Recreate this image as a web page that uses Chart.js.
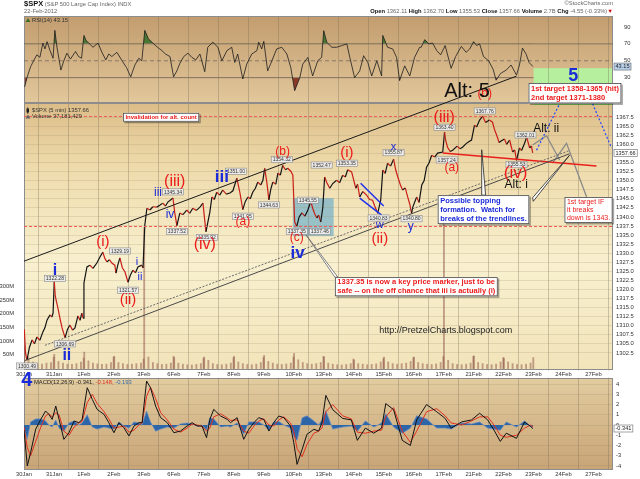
<!DOCTYPE html>
<html><head><meta charset="utf-8"><title>$SPX 5 min</title>
<script src="https://cdn.jsdelivr.net/npm/chart.js@4.4.1/dist/chart.umd.min.js"></script>
<style>
html,body{margin:0;padding:0;background:#fff;}
#wrap{position:relative;width:640px;height:479px;overflow:hidden;font-family:"Liberation Sans",Arial,sans-serif;}
#c{position:absolute;left:0;top:0;width:640px;height:479px;}
.hd{position:absolute;white-space:nowrap;font-size:5.8px;line-height:7px;color:#666;}
.hd b{color:#111;}
</style></head>
<body><div id="wrap">
<canvas id="c" width="640" height="479"></canvas>
<div class="hd" style="left:24px;top:0px;"><b style="font-size:7.5px;">$SPX</b> (S&amp;P 500 Large Cap Index) INDX</div>
<div class="hd" style="left:24px;top:8px;">22-Feb-2012</div>
<div class="hd" style="right:27px;top:0px;">©StockCharts.com</div>
<div class="hd" style="right:27px;top:8px;"><b>Open</b> 1362.11 <b>High</b> 1362.70 <b>Low</b> 1355.53 <b>Close</b> 1357.66 <b>Volume</b> 2.7B <b>Chg</b> -4.55 (-0.33%)<span style="color:#d00">▼</span></div>
</div>
<script>
// ---------------- DATA ----------------
const dayLabels = ['30Jan','31Jan','1Feb','2Feb','3Feb','6Feb','7Feb','8Feb','9Feb','10Feb','13Feb','14Feb','15Feb','16Feb','17Feb','21Feb','22Feb','23Feb','24Feb','27Feb'];
const priceTicks = [1302.5,1305,1307.5,1310,1312.5,1315,1317.5,1320,1322.5,1325,1327.5,1330,1332.5,1335,1337.5,1340,1342.5,1345,1347.5,1350,1352.5,1355,1357.5,1360,1362.5,1365,1367.5];
const rsiTicks = [30,50,70,90];
const macdTicks = [-4,-3,-2,-1,0,1,2,3,4];
const volTicks = [50,100,150,200,250,300];

const priceDay = [0.01,0.05,0.10,0.18,0.27,0.35,0.43,0.53,0.63,0.70,0.77,0.87,0.93,0.97,
1.01,1.04,1.07,1.13,1.20,1.27,1.37,1.45,1.53,1.62,1.70,1.80,1.87,1.93,1.97,
2.00,2.10,2.20,2.30,2.43,2.53,2.63,2.70,2.77,2.85,2.93,
3.03,3.07,3.13,3.20,3.28,3.37,3.47,3.55,3.63,3.72,3.80,3.93,3.97,
4.03,4.10,4.20,4.30,4.43,4.53,4.63,4.72,4.80,4.97,
5.03,5.10,5.20,5.30,5.43,5.53,5.63,5.75,5.87,5.97,
6.07,6.20,6.27,6.35,6.43,6.53,6.63,6.75,6.87,6.97,
7.10,7.20,7.30,7.38,7.47,7.55,7.63,7.72,7.80,7.90,7.97,
8.03,8.10,8.17,8.23,8.30,8.40,8.47,8.55,8.63,8.72,8.80,8.90,8.97,
9.03,9.10,9.18,9.27,9.37,9.47,9.57,9.63,9.70,9.77,9.83,9.90,9.97,
10.03,10.10,10.20,10.30,10.43,10.53,10.63,10.72,10.80,10.93,
11.07,11.13,11.20,11.30,11.43,11.53,11.63,11.70,11.80,11.90,11.97,
12.05,12.13,12.23,12.33,12.40,12.47,12.55,12.63,12.72,12.80,12.87,12.93,12.97,
13.10,13.18,13.27,13.35,13.43,13.52,13.60,13.70,13.80,13.97,
14.03,14.07,14.13,14.22,14.30,14.45,14.55,14.63,14.75,14.85,14.93,
15.03,15.10,15.20,15.30,15.40,15.53,15.63,15.70,15.77,15.85,15.93,
16.03,16.10,16.20,16.30,16.37,16.43,16.53,16.60,16.70,16.77,16.87,16.93,16.97];
const priceVal = [1309.0,1302.5,1300.5,1304.0,1306.1,1305.0,1306.9,1306.0,1308.3,1309.5,1311.6,1313.0,1312.4,1313.5,
1322.3,1318.5,1317.1,1314.9,1312.0,1309.4,1306.7,1309.0,1310.2,1308.8,1309.4,1312.7,1311.5,1313.5,1312.1,
1321.8,1326.2,1326.7,1325.8,1327.3,1328.9,1330.3,1328.5,1327.6,1328.2,1327.3,
1326.7,1324.5,1326.8,1328.7,1326.0,1324.8,1322.0,1324.0,1325.3,1324.6,1326.2,1326.7,1325.9,
1337.7,1342.4,1341.9,1342.8,1342.7,1343.2,1343.8,1343.0,1344.1,1345.2,
1341.1,1337.6,1341.1,1340.6,1341.9,1341.0,1342.4,1341.8,1342.7,1343.8,
1335.9,1341.3,1345.5,1344.8,1346.8,1346.0,1347.4,1346.3,1346.6,1347.2,
1350.7,1346.8,1342.0,1344.2,1345.5,1345.0,1346.8,1347.9,1349.6,1348.8,1350.1,
1353.4,1349.6,1344.7,1347.5,1349.6,1349.0,1352.1,1351.5,1354.2,1353.0,1353.4,1352.6,1351.5,
1338.6,1337.4,1340.0,1341.1,1340.2,1341.9,1344.3,1342.4,1340.8,1339.7,1340.5,1338.6,1342.7,
1351.0,1349.5,1347.9,1349.2,1350.1,1349.4,1351.5,1351.0,1353.0,1352.4,
1347.9,1349.0,1345.5,1347.0,1346.0,1344.8,1344.6,1343.0,1341.0,1344.6,1352.9,
1352.0,1354.8,1354.0,1355.9,1353.0,1351.0,1349.0,1347.4,1348.0,1345.5,1343.5,1341.0,1342.7,
1345.5,1344.0,1348.8,1350.0,1353.7,1355.0,1357.0,1356.5,1357.6,1357.9,
1363.4,1361.0,1359.2,1358.0,1358.4,1359.5,1358.8,1359.2,1360.2,1360.8,1361.2,
1365.3,1364.8,1366.7,1367.8,1366.0,1366.7,1366.1,1364.0,1362.5,1360.5,1361.0,
1361.5,1360.0,1361.2,1357.9,1358.5,1355.6,1359.0,1358.3,1360.3,1362.0,1359.0,1359.6,1357.66];

const volDay = [0.01,0.15,0.3,0.45,0.6,0.75,0.9,0.99, 1.01,1.15,1.3,1.45,1.6,1.75,1.9,1.99,
2.01,2.15,2.3,2.45,2.6,2.75,2.9,2.99, 3.01,3.15,3.3,3.45,3.6,3.75,3.9,3.99,
4.01,4.15,4.3,4.45,4.6,4.75,4.9,4.99, 5.01,5.15,5.3,5.45,5.6,5.75,5.9,5.99,
6.01,6.15,6.3,6.45,6.6,6.75,6.9,6.99, 7.01,7.15,7.3,7.45,7.6,7.75,7.9,7.99,
8.01,8.15,8.3,8.45,8.6,8.75,8.9,8.99, 9.01,9.15,9.3,9.45,9.6,9.75,9.9,9.99,
10.01,10.15,10.3,10.45,10.6,10.75,10.9,10.99, 11.01,11.15,11.3,11.45,11.6,11.75,11.9,11.99,
12.01,12.15,12.3,12.45,12.6,12.75,12.9,12.99, 13.01,13.15,13.3,13.45,13.6,13.75,13.9,13.99,
14.01,14.15,14.3,14.45,14.6,14.75,14.9,14.99, 15.01,15.15,15.3,15.45,15.6,15.75,15.9,15.99,
16.01,16.15,16.3,16.45,16.6,16.75,16.9,16.99];
const volM = [85,40,24,18,16,20,22,42, 52,26,20,16,15,18,24,38,
60,28,20,17,15,16,22,42, 45,22,18,15,16,18,20,35,
515,42,22,18,15,16,20,45, 40,20,16,14,13,15,18,38,
42,30,18,15,14,16,20,40, 45,24,18,15,14,16,22,40,
48,26,20,16,15,17,20,42, 55,32,22,18,16,18,22,45,
42,20,16,14,13,15,18,35, 31,18,16,14,15,17,24,36,
42,24,18,16,18,20,26,40, 42,22,18,16,15,17,22,44,
560,30,18,15,14,16,20,45, 46,22,18,15,14,16,24,40,
38,24,18,15,14,16,20,40];

const rsiDay = [0.02,0.1,0.22,0.32,0.43,0.53,0.63,0.7,0.77,0.87, 0.97,1.03,1.1,1.23,1.33,1.43,1.55,1.72,1.82,1.92,
2.0,2.07,2.13,2.3,2.47,2.6,2.73,2.83,2.93,3.1, 3.29,3.42,3.56,3.7,3.83,3.93,4.03,4.15,4.3,4.45,
4.57,4.72,4.87,4.99,5.1,5.2,5.33,5.47,5.6,5.73,
5.87,6.03,6.13,6.3,6.47,6.6,6.77,6.93,7.03,7.13, 7.3,7.43,7.6,7.77,7.83,7.93,8.0,8.13,8.27,8.43,
8.6,8.77,8.9,9.03,9.2,9.3,9.47,9.63,9.8,9.93, 10.0,10.1,10.27,10.43,10.6,10.77,10.87,11.03,11.2,11.33,
11.47,11.6,11.77,11.93,11.97,12.13,12.3,12.43,12.53,12.7, 12.87,13.03,13.2,
13.25,13.37,13.5,13.63,13.77,13.9,14.05,14.25,14.4,14.59, 14.75,14.87,15.0,15.1,15.2,15.33,15.5,15.65,15.75,15.9,
16.09,16.25,16.43,16.53,16.63,16.75,16.85,16.98];
const rsiVal = [19,30,43,50,57,54,71,64,72.6,62, 53,86,66,39,50,59,52,61,55,53,
80,74,72,66,71,60,51,58,55,60, 49,42,31,45,53,50,86,76,71,66,
63,58,55,31,38,47,55,59,54,51,
58,37,66,72,66,50,62,66,48,58, 28.5,46,58,62,72,64,73,38,50,64,
66,58,42,14.6,30,46,54,32,50,54, 85.6,72,66,66,68,70,54,30,38,56,
48,32,50,32,80,66,64,54,26.5,44, 32,54,66,
66,75,70,71,62,57,68,41,55,67, 60,64,72.6,68,70,55,50,40,27,35,
39,45,33,45,65,58,48,43.15];

const macdDay = [0.0,0.11,0.22,0.39,0.56,0.72,0.83,0.94,1.06,1.17,
1.33,1.5,1.67,1.83,1.94,2.11,2.28,2.44,2.67,2.83,
3.0,3.17,3.33,3.5,3.67,3.83,3.94,4.09,4.22,4.39,
4.56,4.78,5.0,5.22,5.44,5.61,5.78,5.94,6.09,6.2,
6.33,6.56,6.78,6.89,7.11,7.33,7.5,7.67,7.83,8.0,
8.17,8.33,8.5,8.67,8.89,9.0,9.11,9.28,9.44,9.67,
9.83,9.94,
10.07,10.3,10.63,10.92,11.12,
11.39,11.67,11.93,12.07,12.33,12.62,12.89,13.1,13.43,13.77,
14.05,14.25,14.6,14.93,15.2,15.47,15.68,15.89,16.09,16.43,
16.7,16.9,16.98];
const macdLine = [-0.5,-4.0,-2.7,-0.4,0.55,1.37,1.04,0.55,1.86,0.55,
-1.4,-0.75,0.39,0.23,0.55,3.65,2.5,1.53,1.04,0.23,
-0.75,0.23,-0.26,-1.07,-0.1,0.23,0.23,4.3,3.65,1.86,
0.72,0.23,-0.75,-0.59,-0.1,0.23,-0.1,-0.1,-1.24,0.55,
1.53,0.88,0.55,0.23,0.72,-1.4,-0.42,0.23,0.72,0.55,
-0.59,0.23,0.88,0.72,-0.1,-1.73,-3.85,-2.38,-0.91,-0.42,
-0.59,0.23,
2.9,1.5,0.65,0.5,-1.5,
-0.3,-0.8,-0.3,2.1,1.5,-1.5,-2.0,0.5,2.0,1.3,
0.65,-0.3,0.3,0.5,1.15,0.5,-0.5,-1.6,-0.8,-1.3,
0.3,-0.15,-0.341];
const macdSignal = [-0.2,-2.2,-3.0,-1.6,-0.2,0.9,1.1,0.8,1.2,1.0,
-0.6,-1.0,-0.2,0.2,0.35,2.2,3.0,2.1,1.3,0.6,
-0.3,-0.2,-0.1,-0.7,-0.5,0.0,0.2,2.8,3.7,2.6,
1.2,0.5,-0.4,-0.7,-0.3,0.1,0.0,-0.1,-0.6,-0.3,
0.8,1.1,0.7,0.45,0.5,-0.6,-0.8,-0.1,0.4,0.6,
0.0,-0.1,0.5,0.8,0.2,-0.6,-2.3,-3.1,-1.9,-0.8,
-0.6,-0.3,
1.3,2.0,0.9,0.6,-0.7,
-0.8,-0.6,-0.5,0.8,1.7,-0.6,-1.7,-0.6,1.3,1.6,
0.9,0.2,0.0,0.4,0.8,0.8,0.0,-1.0,-1.2,-1.0,
-0.3,0.0,-0.148];
const macdHist = [-0.4,-1.4,0.3,0.6,0.6,0.4,0.0,-0.2,0.5,-0.3,
-0.6,0.2,0.4,0.0,0.2,1.0,-0.2,-0.4,-0.2,-0.3,
-0.4,0.3,-0.1,-0.3,0.3,0.2,0.05,1.37,0.3,-0.6,
-0.4,-0.2,-0.3,0.1,0.2,0.1,-0.1,0.0,-0.5,0.7,
0.6,-0.2,-0.1,-0.2,0.2,-0.9,0.3,0.3,0.3,0.0,
-0.5,0.3,0.35,0.0,-0.3,-1.1,-1.5,0.7,0.9,0.4,
0.0,0.5,
1.4,-0.4,-0.2,-0.1,-0.6,
0.4,-0.2,0.2,1.1,-0.2,-0.8,-0.3,0.9,0.6,-0.3,
-0.3,-0.4,0.2,0.1,0.3,-0.3,-0.4,-0.5,0.3,-0.2,
0.4,-0.1,-0.193];

// --------------- ANNOTATIONS (chart coordinates: day, price) ---------------
const R = '#ec1b1b', B = '#1b2bd9', K = '#111';
const trendLines = [
  {pts:[[0,1327.8],[16.43,1378.8]], color:'#1a1a1a', w:1},
  {pts:[[0.03,1300.4],[18.2,1357.4]], color:'#4a4a4a', w:1},
  {pts:[[0.7,1304.6],[18.2,1358.3]], color:'#6a6a6a', w:1, dash:[2,1.5]},
  {pts:[[13.97,1357.6],[19.1,1354.0]], color:'#e8201c', w:1.5},
  {pts:[[11.23,1349.3],[12.0,1343.0]], color:'#2233ee', w:1.5},
  {pts:[[11.2,1345.2],[11.93,1340.5]], color:'#2233ee', w:1.5},
  {pts:[[17.1,1358.4],[17.87,1371.2]], color:'#2244ff', w:1.2, dash:[2,2]},
  {pts:[[18.97,1371.2],[19.6,1359.0]], color:'#2244ff', w:1.2, dash:[2,2]},
  {pts:[[16.97,1359.8],[17.43,1362.4],[17.87,1355.7]], color:'#8a8a8a', w:1.3},
  {pts:[[17.63,1354.8],[18.1,1360.3],[18.77,1345.5]], color:'#8a8a8a', w:1.3},
  {pts:[[0,1367.7],[19.65,1367.7]], color:'#f05a5a', w:1, dash:[3,2]},
  {pts:[[0,1337.35],[19.65,1337.35]], color:'#f05a5a', w:1, dash:[3,2]}
];
const waveLabels = [
  ['i',1.03,1325.1,B,16,1],['ii',1.43,1301.9,B,16,1],['(i)',2.63,1333.1,R,15,0],['(ii)',3.47,1317.1,R,15,0],
  ['i',3.77,1327.5,B,11,0],['ii',3.87,1323.4,B,11,0],['iii',4.47,1346.8,B,12,0],['iv',4.87,1340.5,B,12,0],
  ['(iii)',5.03,1349.6,R,16,0],['iii',6.6,1351.0,B,17,1],['(iv)',6.03,1332.5,R,16,0],['(a)',7.3,1338.6,R,12,0],
  ['(b)',8.63,1358.1,R,12,0],['(c)',9.1,1334.2,R,12,0],['iv',9.13,1330.0,B,17,1],['(i)',10.77,1357.6,R,15,0],
  ['x',12.33,1359.2,B,11,0],['w',11.87,1337.7,B,11,0],['(ii)',11.87,1334.0,R,15,0],['y',12.9,1337.2,B,12,0],
  ['(iii)',14.02,1367.5,R,16,0],['(a)',14.27,1353.5,R,12,0],['(b)',15.37,1374.1,R,12,0],['(iv)',16.4,1352.0,R,17,0],
  ['Alt: i',16.42,1349.0,K,12,0],['Alt: ii',17.42,1364.3,K,12,0],['Alt: 5',14.78,1374.5,K,20,0],
  ['5',18.32,1378.7,B,18,1],['4',0.09,1295.0,B,20,1]
];
const valueTags = [
  ['1300.49',0.1,1298.9],['1322.28',1.03,1323.0],['1306.69',1.37,1305.0],['1329.19',3.2,1330.6],['1321.57',3.47,1319.8],
  ['1345.34',4.97,1346.9],['1337.52',5.1,1336.0],['1335.92',6.1,1334.3],['1351.00',7.07,1352.6],['1341.95',7.3,1340.2],
  ['1344.63',8.17,1343.3],['1354.32',8.6,1355.8],['1345.55',9.47,1344.6],['1337.35',9.1,1336.0],['1337.46',9.87,1336.0],
  ['1352.47',9.93,1354.3],['1353.35',10.77,1354.8],['1340.83',11.83,1339.7],['1355.87',12.33,1357.7],['1340.80',12.93,1339.5],
  ['1357.24',14.1,1355.7],['1363.40',14.03,1364.7],['1367.76',15.37,1369.2],['1355.53',16.43,1354.4],['1362.01',16.73,1362.6]
];
const noteBoxes = [
  {lines:['Invalidation for alt. count'], d:3.3, p:1368.7, color:R, size:6, bold:true, lh:7},
  {lines:['1337.35 is now a key price marker, just to be','safe -- on the off chance that iii is actually (i)'], d:10.37, p:1323.4, color:R, size:7.5, bold:true, lh:8.6},
  {lines:['Possible topping','formation.  Watch for','breaks of the trendlines.'], d:13.8, p:1346.0, color:B, size:7.5, bold:true, lh:9},
  {lines:['1st target IF','it breaks','down is 1343.'], d:18.03, p:1345.5, color:R, size:7, bold:false, lh:8},
  {lines:['1st target 1358-1365 (hit)','2nd target 1371-1380'], d:16.83, p:1376.9, color:R, size:7.5, bold:true, lh:9.2}
];
const pointers = [
  {tip:[15.27,1358.5], a:[15.27,1346.0], b:[15.4,1346.0], stroke:'#222'},
  {tip:[18.2,1357.0], a:[16.97,1345.3], b:[16.99,1344.3], stroke:'#222'},
  {tip:[9.37,1335.5], a:[10.37,1323.4], b:[10.47,1323.4], stroke:'#666'}
];
const tealBox = {d0:8.97, d1:10.33, p0:1334.7, p1:1345.2};
const greenBox = {d0:17.0, d1:19.65, p0:1370.9, p1:1381.0};

// --------------- HELPERS ---------------
const FF = '"Liberation Sans", Arial, sans-serif';
const font = (s,b) => (b ? 'bold ' : '') + s + 'px ' + FF;
Chart.defaults.font.family = FF;
Chart.defaults.font.size = 5.8;
Chart.defaults.color = '#333';
const pts = (xs, ys) => xs.map((x,i) => ({x:x, y:ys[i]}));

function vgrad(ctx, x0, y0, x1, y1, stops){
  const g = ctx.createLinearGradient(0, y0, 0, y1);
  stops.forEach(s => g.addColorStop(s[0], s[1]));
  ctx.fillStyle = g; ctx.fillRect(x0, y0, x1-x0, y1-y0);
}

const drawPlugin = {
  id: 'stockPanels',
  beforeDraw(ch){
    const ctx = ch.ctx, a = ch.chartArea, s = ch.scales;
    ctx.save();
    vgrad(ctx, a.left, s.rsi.top, a.right, s.rsi.bottom, [[0,'#c29c6e'],[1,'#e2c89b']]);
    vgrad(ctx, a.left, s.y.top, a.right, s.y.bottom, [[0,'#dcbd88'],[0.25,'#efdcad'],[0.6,'#f8f0cf'],[1,'#f2e4ba']]);
    vgrad(ctx, a.left, s.macd.top, a.right, s.macd.bottom, [[0,'#e2cca0'],[1,'#c8a476']]);
    const X = d => s.x.getPixelForValue(d), P = p => s.y.getPixelForValue(p);
    ctx.fillStyle = 'rgba(95,170,205,0.62)';
    ctx.fillRect(X(tealBox.d0), P(tealBox.p1), X(tealBox.d1)-X(tealBox.d0), P(tealBox.p0)-P(tealBox.p1));
    ctx.fillStyle = '#b6f09e';
    ctx.fillRect(X(greenBox.d0), P(greenBox.p1), X(greenBox.d1)-X(greenBox.d0), P(greenBox.p0)-P(greenBox.p1));
    ctx.fillStyle = '#7fdc58';
    ctx.fillRect(X(greenBox.d0), P(greenBox.p0)-2.5, X(greenBox.d1)-X(greenBox.d0), 2.5);
    ctx.restore();
  },
  beforeDatasetsDraw(ch){
    const ctx = ch.ctx, a = ch.chartArea, s = ch.scales;
    ctx.save();
    const g = s.gap;
    ctx.fillStyle = '#fff';
    ctx.fillRect(a.left-1, g.top+0.5, a.right-a.left+2, g.bottom-g.top-1);
    ctx.fillStyle = '#333'; ctx.font = font(5.8,false);
    ctx.textAlign = 'center'; ctx.textBaseline = 'middle';
    dayLabels.forEach((l,i) => ctx.fillText(l, s.x.getPixelForValue(i), (g.top+g.bottom)/2));
    ctx.strokeStyle = '#8c8c8c'; ctx.lineWidth = 1;
    [s.rsi, s.y, s.macd].forEach(sc => ctx.strokeRect(a.left+0.5, sc.top+0.5, a.right-a.left-1, sc.bottom-sc.top-1));
    ctx.restore();
  },
  afterDraw(ch){
    const ctx = ch.ctx, a = ch.chartArea, s = ch.scales;
    const X = d => s.x.getPixelForValue(d), P = p => s.y.getPixelForValue(p);
    ctx.save();
    pointers.forEach(pt => {
      ctx.beginPath();
      ctx.moveTo(X(pt.a[0]), P(pt.a[1])); ctx.lineTo(X(pt.tip[0]), P(pt.tip[1])); ctx.lineTo(X(pt.b[0]), P(pt.b[1]));
      ctx.closePath(); ctx.fillStyle = '#fff'; ctx.fill();
      ctx.strokeStyle = pt.stroke; ctx.lineWidth = 0.8; ctx.stroke();
    });
    ctx.textAlign = 'center'; ctx.textBaseline = 'middle';
    valueTags.forEach(t => {
      ctx.font = font(5,false);
      const w = ctx.measureText(t[0]).width + 3, h = 6.2, x = X(t[1]), y = P(t[2]);
      ctx.fillStyle = 'rgba(236,236,236,0.95)'; ctx.fillRect(x-w/2, y-h/2, w, h);
      ctx.strokeStyle = '#8a8a8a'; ctx.lineWidth = 0.6; ctx.strokeRect(x-w/2, y-h/2, w, h);
      ctx.fillStyle = '#333'; ctx.fillText(t[0], x, y+0.3);
    });
    noteBoxes.forEach(b => {
      ctx.font = font(b.size, b.bold);
      const pad = 2.5;
      const w = Math.max.apply(null, b.lines.map(l => ctx.measureText(l).width)) + 2*pad;
      const h = b.lines.length*b.lh + 2;
      const x = X(b.d), y = P(b.p);
      ctx.fillStyle = 'rgba(0,0,0,0.35)'; ctx.fillRect(x+1.5, y+1.5, w, h);
      ctx.fillStyle = '#fff'; ctx.fillRect(x, y, w, h);
      ctx.strokeStyle = '#444'; ctx.lineWidth = 0.8; ctx.strokeRect(x+0.5, y+0.5, w-1, h-1);
      ctx.fillStyle = b.color; ctx.textAlign = 'left'; ctx.textBaseline = 'middle';
      b.lines.forEach((l,i) => ctx.fillText(l, x+pad, y+1+b.lh*(i+0.5)));
    });
    ctx.textAlign = 'center'; ctx.textBaseline = 'middle';
    waveLabels.forEach(w => {
      ctx.font = font(w[4], w[5]); ctx.fillStyle = w[3];
      ctx.fillText(w[0], X(w[1]), P(w[2]));
    });
    ctx.font = font(9,false); ctx.fillStyle = '#222';
    ctx.fillText('http://PretzelCharts.blogspot.com', X(14.07), P(1308.8));
    ctx.textAlign = 'left'; ctx.font = font(5.8,false);
    const rt = s.rsi.top, pt = s.y.top, mt = s.macd.top;
    ctx.fillStyle = '#3f6d2c';
    ctx.beginPath(); ctx.moveTo(25.5, rt+6); ctx.lineTo(28, rt+2); ctx.lineTo(30.5, rt+6); ctx.closePath(); ctx.fill();
    ctx.fillStyle = '#333'; ctx.fillText('RSI(14) 43.15', 32, rt+4.3);
    ctx.fillStyle = '#222'; ctx.fillRect(26.5, pt+5.5, 2.5, 4); ctx.fillRect(27.4, pt+4.3, 0.7, 6.5);
    ctx.fillStyle = '#333'; ctx.fillText('$SPX (5 min) 1357.66', 32, pt+7.7);
    ctx.fillStyle = '#666';
    ctx.beginPath(); ctx.moveTo(25.5, pt+15.5); ctx.lineTo(28, pt+11.5); ctx.lineTo(30.5, pt+15.5); ctx.closePath(); ctx.fill();
    ctx.fillStyle = '#333'; ctx.fillText('Volume 37,181,429', 32, pt+13.6);
    let mx = 34;
    [['MACD(12,26,9) ','#222'],['-0.341, ','#222'],['-0.148, ','#e03020'],['-0.193','#3a6ea8']].forEach(seg => {
      ctx.fillStyle = seg[1]; ctx.fillText(seg[0], mx, mt+4.3); mx += ctx.measureText(seg[0]).width;
    });
    const axTag = (txt, y, bg) => {
      ctx.font = font(5.6,false);
      const w = ctx.measureText(txt).width + 3;
      ctx.fillStyle = bg; ctx.fillRect(a.right+1, y-3.5, w, 7);
      ctx.strokeStyle = '#666'; ctx.lineWidth = 0.6; ctx.strokeRect(a.right+1, y-3.5, w, 7);
      ctx.fillStyle = '#222'; ctx.textAlign = 'left'; ctx.fillText(txt, a.right+2.5, y+0.3);
    };
    axTag('1357.66', s.y.getPixelForValue(1357.66), '#ffffff');
    axTag('43.15', s.rsi.getPixelForValue(43.15), '#b9d0ea');
    axTag('-0.341', s.macd.getPixelForValue(-0.341), '#ffffff');
    ctx.restore();
  }
};

// --------------- DATASETS ---------------
const datasets = [];
datasets.push({type:'bar', data:pts(volDay, volM), xAxisID:'x', yAxisID:'vol', backgroundColor:'rgba(140,80,70,0.5)', barThickness:1.2, order:100});
datasets.push({type:'line', data:pts(rsiDay, rsiVal), xAxisID:'x', yAxisID:'rsi', borderWidth:0, borderColor:'rgba(0,0,0,0)', pointRadius:0,
  fill:{target:{value:70}, above:'#4a7832', below:'rgba(0,0,0,0)'}, order:60});
datasets.push({type:'line', data:pts(rsiDay, rsiVal), xAxisID:'x', yAxisID:'rsi', borderWidth:0, borderColor:'rgba(0,0,0,0)', pointRadius:0,
  fill:{target:{value:30}, above:'rgba(0,0,0,0)', below:'#8c3a28'}, order:60});
[[70,19.65,[]],[50,19.65,[4,3]],[30,17.0,[]]].forEach(r => datasets.push({type:'line', data:[{x:0,y:r[0]},{x:r[1],y:r[0]}], xAxisID:'x', yAxisID:'rsi',
  borderColor:'rgba(110,100,90,0.75)', borderWidth:1, borderDash:r[2], pointRadius:0, fill:false, order:50}));
datasets.push({type:'line', data:pts(rsiDay, rsiVal), xAxisID:'x', yAxisID:'rsi', borderColor:'#1c1c1c', borderWidth:0.8, pointRadius:0, fill:false, order:45});
datasets.push({type:'line', data:pts(macdDay, macdHist), xAxisID:'x', yAxisID:'macd', borderColor:'rgba(100,140,195,0.9)', borderWidth:0.8, pointRadius:0,
  fill:{target:{value:0}, above:'#2d66a8', below:'#2d66a8'}, order:40});
datasets.push({type:'line', data:pts(macdDay, macdSignal), xAxisID:'x', yAxisID:'macd', borderColor:'#e03020', borderWidth:1, pointRadius:0, fill:false, order:35});
datasets.push({type:'line', data:pts(macdDay, macdLine), xAxisID:'x', yAxisID:'macd', borderColor:'#111', borderWidth:1, pointRadius:0, fill:false, order:30});
datasets.push({type:'line', data:pts(priceDay, priceVal), xAxisID:'x', yAxisID:'y', borderWidth:1.2, pointRadius:0, fill:false, order:20,
  segment:{borderColor: c => (c.p1.parsed.y < c.p0.parsed.y ? '#c81e18' : '#141414')}});
trendLines.forEach(t => datasets.push({type:'line', data:t.pts.map(q => ({x:q[0], y:q[1]})), xAxisID:'x', yAxisID:'y', clip:false,
  borderColor:t.color, borderWidth:t.w, borderDash:t.dash || [], pointRadius:0, fill:false, order:10}));

const tickFont = {size:5.8, family:FF};
const fixW = w => (sc => { sc.width = w; });
new Chart(document.getElementById('c'), {
  type:'line',
  data:{datasets:datasets},
  plugins:[drawPlugin],
  options:{
    responsive:false, animation:false, events:[],
    layout:{padding:{top:16, left:0, right:0, bottom:0}},
    plugins:{legend:{display:false}, tooltip:{enabled:false}},
    scales:{
      x:{type:'linear', min:0, max:19.65, offset:false,
         afterBuildTicks: sc => { sc.ticks = dayLabels.map((_,i) => ({value:i})); },
         ticks:{callback:(v,i) => dayLabels[i], font:tickFont, color:'#333', padding:1, maxRotation:0, autoSkip:false},
         grid:{color:'rgba(120,110,90,0.35)', drawTicks:false}, border:{display:false},
         afterFit: sc => { sc.height = 9; }},
      rsi:{type:'linear', position:'right', stack:'panels', stackWeight:87, min:0, max:103,
         afterBuildTicks: sc => { sc.ticks = rsiTicks.map(v => ({value:v})); },
         ticks:{font:tickFont, color:'#333', padding:3, autoSkip:false}, grid:{display:false}, border:{display:false}, afterFit:fixW(27)},
      y:{type:'linear', position:'right', stack:'panels', stackWeight:267, min:1297.8, max:1371.4,
         afterBuildTicks: sc => { sc.ticks = priceTicks.map(v => ({value:v})); },
         ticks:{font:tickFont, color:'#333', padding:3, autoSkip:false, callback:v => Number(v).toFixed(1)},
         grid:{color:'rgba(160,140,100,0.22)', drawTicks:false}, border:{display:false}, afterFit:fixW(27)},
      gap:{type:'linear', position:'right', stack:'panels', stackWeight:8, min:0, max:1,
         ticks:{display:false}, grid:{display:false}, border:{display:false}, afterFit:fixW(27)},
      macd:{type:'linear', position:'right', stack:'panels', stackWeight:92, min:-4.4, max:4.6,
         afterBuildTicks: sc => { sc.ticks = macdTicks.map(v => ({value:v})); },
         ticks:{font:tickFont, color:'#333', padding:3, autoSkip:false},
         grid:{color:'rgba(140,120,90,0.18)', drawTicks:false}, border:{display:false}, afterFit:fixW(27)},
      vol:{type:'linear', position:'left', min:-370, max:1286,
         afterBuildTicks: sc => { sc.ticks = volTicks.map(v => ({value:v})); },
         ticks:{font:tickFont, color:'#333', padding:2, autoSkip:false, callback:v => v + 'M'},
         grid:{display:false}, border:{display:false}, afterFit:fixW(24)}
    }
  }
});
</script>
</body></html>
